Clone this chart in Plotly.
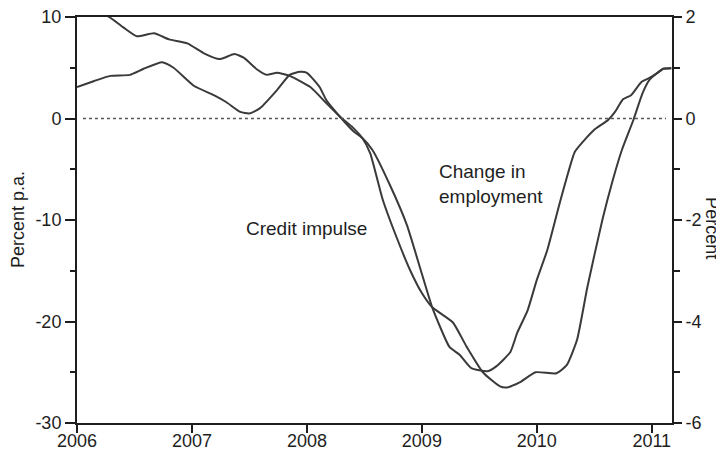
import plotly.graph_objects as go

# ---------------- data ----------------
# Credit impulse, percent p.a. (left axis); x in decimal years
credit_years = [2006.00, 2006.15, 2006.29, 2006.46, 2006.58, 2006.74, 2006.84, 2007.02,
                2007.19, 2007.30, 2007.42, 2007.50, 2007.59, 2007.74, 2007.85, 2007.94,
                2008.00, 2008.11, 2008.17, 2008.29, 2008.40, 2008.48, 2008.57, 2008.72,
                2008.87, 2009.00, 2009.09, 2009.24, 2009.33, 2009.43, 2009.57, 2009.65,
                2009.77, 2009.83, 2009.92, 2010.00, 2010.09, 2010.20, 2010.33, 2010.40,
                2010.50, 2010.62, 2010.68, 2010.75, 2010.82, 2010.91, 2010.98, 2011.05,
                2011.10, 2011.17]
credit_values = [3.1, 3.7, 4.2, 4.3, 4.9, 5.55, 5.0, 3.2,
                 2.3, 1.6, 0.65, 0.5, 1.0, 2.8, 4.3, 4.6,
                 4.5, 3.1, 1.8, 0.15, -1.2, -1.9, -3.1, -6.5,
                 -10.5, -15.3, -18.6, -22.5, -23.3, -24.6, -24.9, -24.4,
                 -23.0, -21.1, -18.9, -15.9, -13.0, -8.3, -3.3, -2.3,
                 -1.1, -0.15, 0.65, 1.9, 2.3, 3.6, 4.0, 4.5,
                 4.9, 4.95]

# Change in employment, percent (right axis); x in decimal years
emp_years = [2006.00, 2006.17, 2006.28, 2006.40, 2006.52, 2006.67, 2006.80, 2006.96,
             2007.10, 2007.24, 2007.37, 2007.45, 2007.57, 2007.65, 2007.74, 2007.85,
             2008.03, 2008.17, 2008.29, 2008.40, 2008.48, 2008.55, 2008.66, 2008.78,
             2008.90, 2009.00, 2009.09, 2009.27, 2009.39, 2009.53, 2009.68, 2009.74,
             2009.85, 2009.99, 2010.17, 2010.26, 2010.35, 2010.44, 2010.57, 2010.66,
             2010.74, 2010.84, 2010.92, 2010.98, 2011.05, 2011.10, 2011.17]
emp_values = [2.4, 2.12, 2.0, 1.8, 1.62, 1.68, 1.56, 1.48,
              1.29, 1.17, 1.27, 1.2, 0.96, 0.86, 0.9, 0.84,
              0.62, 0.3, 0.03, -0.18, -0.38, -0.68, -1.6, -2.34,
              -3.0, -3.44, -3.72, -4.02, -4.5, -5.0, -5.28, -5.3,
              -5.2, -5.0, -5.02, -4.86, -4.36, -3.32, -2.0, -1.22,
              -0.62, -0.03, 0.5, 0.76, 0.9, 0.98, 0.99]

x_tick_years = [2006, 2007, 2008, 2009, 2010, 2011]
x_tick_labels = ["2006", "2007", "2008", "2009", "2010", "2011"]
left_ticks = [-30, -20, -10, 0, 10]
left_tick_labels = ["-30", "-20", "-10", "0", "10"]
left_minor = [-25, -15, -5, 5]
right_ticks = [-6, -4, -2, 0, 2]
right_tick_labels = ["-6", "-4", "-2", "0", "2"]
right_minor = [-5, -3, -1, 1]

X_RANGE = [2006.0, 2011.176]
INK = "#1e1e1e"
LINE = "#3a3a3a"
FONT = "Liberation Sans, Arial, sans-serif"

fig = go.Figure()
fig.add_trace(go.Scatter(x=credit_years, y=credit_values, mode="lines",
                         line=dict(color=LINE, width=2, shape="spline", smoothing=0.5),
                         name="Credit impulse", yaxis="y"))
fig.add_trace(go.Scatter(x=emp_years, y=emp_values, mode="lines",
                         line=dict(color=LINE, width=2, shape="spline", smoothing=0.5),
                         name="Change in employment", yaxis="y2"))

# dotted zero line
fig.add_shape(type="line", xref="paper", yref="y", x0=0.01, x1=0.99, y0=0, y1=0,
              line=dict(color="#555555", width=1.5, dash="dot"))

fig.add_annotation(x=2007.453, y=-10.8, xref="x", yref="y", text="Credit impulse",
                   showarrow=False, xanchor="left", yanchor="middle",
                   font=dict(family=FONT, size=19, color=INK))
fig.add_annotation(x=2009.133, y=-6.45, xref="x", yref="y", text="Change in<br>employment",
                   showarrow=False, xanchor="left", yanchor="middle", align="left",
                   font=dict(family=FONT, size=19, color=INK))

# axis titles
fig.add_annotation(x=0, y=0.5, xref="paper", yref="paper", text="Percent p.a.",
                   textangle=-90, showarrow=False, xanchor="center", yanchor="middle",
                   xshift=-59, font=dict(family=FONT, size=18, color=INK))
fig.add_annotation(x=1, y=0.48, xref="paper", yref="paper", text="Percent",
                   textangle=90, showarrow=False, xanchor="center", yanchor="middle",
                   xshift=40, font=dict(family=FONT, size=18, color=INK))

tickfont = dict(family=FONT, size=18, color=INK)

# the page body adds an 8 px offset, so the figure is 8 px smaller and margins compensate
fig.update_layout(
    width=716, height=445,
    margin=dict(l=69, r=52, t=9, b=30, autoexpand=False),
    paper_bgcolor="white", plot_bgcolor="white",
    showlegend=False,
    xaxis=dict(range=X_RANGE, tickvals=x_tick_years, ticktext=x_tick_labels,
               ticks="outside", ticklen=8, tickwidth=1.5, tickcolor=INK,
               showline=True, linewidth=2, linecolor=INK, mirror=True,
               showgrid=False, zeroline=False, tickfont=tickfont, automargin=False,
               ticklabeloverflow="allow", ticklabelstandoff=-8),
    yaxis=dict(range=[-30, 10], tickvals=left_ticks, ticktext=left_tick_labels,
               ticks="outside", ticklen=10, tickwidth=1.5, tickcolor=INK,
               minor=dict(tickvals=left_minor, ticks="outside", ticklen=5,
                          tickwidth=1.5, tickcolor=INK, showgrid=False),
               showline=True, linewidth=2, linecolor=INK,
               showgrid=False, zeroline=False, tickfont=tickfont, automargin=False,
               ticklabeloverflow="allow"),
    yaxis2=dict(range=[-6, 2], tickvals=right_ticks, ticktext=right_tick_labels,
                overlaying="y", side="right",
                ticks="outside", ticklen=8, tickwidth=1.5, tickcolor=INK,
                minor=dict(tickvals=right_minor, ticks="outside", ticklen=6,
                           tickwidth=1.5, tickcolor=INK, showgrid=False),
                showline=True, linewidth=2, linecolor=INK,
                showgrid=False, zeroline=False, tickfont=tickfont, automargin=False,
                ticklabeloverflow="allow"),
)

fig.write_html("out.html")
